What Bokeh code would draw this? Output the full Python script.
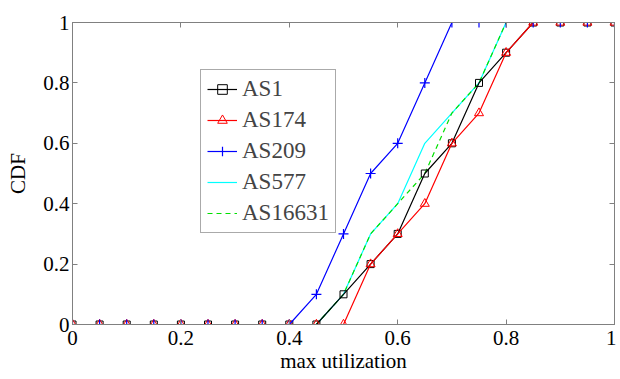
from bokeh.plotting import figure
from bokeh.models import Range1d, FixedTicker, LinearAxis, Legend, LegendItem
from bokeh.embed import file_html
from bokeh.resources import INLINE

x = [0, 0.05, 0.1, 0.15, 0.2, 0.25, 0.3, 0.35, 0.4, 0.45, 0.5,
     0.55, 0.6, 0.65, 0.7, 0.75, 0.8, 0.85, 0.9, 0.95, 1.0]
as1 = [0, 0, 0, 0, 0, 0, 0, 0, 0, 0, 0.1, 0.2, 0.3, 0.5, 0.6, 0.8, 0.9, 1, 1, 1, 1]
as174 = [0, 0, 0, 0, 0, 0, 0, 0, 0, 0, 0, 0.2, 0.3, 0.4, 0.6, 0.7, 0.9, 1, 1, 1, 1]
as209 = [0, 0, 0, 0, 0, 0, 0, 0, 0, 0.1, 0.3, 0.5, 0.6, 0.8, 1, 1, 1, 1, 1, 1, 1]
as577 = [0, 0, 0, 0, 0, 0, 0, 0, 0, 0, 0.1, 0.3, 0.4, 0.6, 0.7, 0.8, 1, 1, 1, 1, 1]
as16631 = [0, 0, 0, 0, 0, 0, 0, 0, 0, 0, 0.1, 0.3, 0.4, 0.5, 0.7, 0.8, 1, 1, 1, 1, 1]
ticks = [0, 0.2, 0.4, 0.6, 0.8, 1]

GREY = "#808080"
SERIF = "Liberation Serif"

p = figure(width=616, height=378, output_backend="svg", toolbar_location=None,
           x_range=Range1d(0, 1), y_range=Range1d(0, 1),
           min_border_left=72, min_border_right=2, min_border_top=22, min_border_bottom=54)
p.grid.visible = False
p.outline_line_color = GREY
p.background_fill_color = "white"

xax = p.xaxis[0]
yax = p.yaxis[0]
for ax in (xax, yax):
    ax.update(
        ticker=FixedTicker(ticks=ticks),
        major_tick_in=5, major_tick_out=0,
        minor_tick_line_color=None,
        axis_line_color=GREY, major_tick_line_color=GREY,
        major_label_text_font=SERIF,
        major_label_text_font_size="21px",
        major_label_text_color="black",
        axis_label_text_font=SERIF,
        axis_label_text_font_size="21px",
        axis_label_text_font_style="normal",
        axis_label_text_color="black",
    )
xax.axis_label = "max utilization"
yax.axis_label = "CDF"
xax.major_label_standoff = 6
xax.axis_label_standoff = 1
yax.major_label_standoff = 3
yax.axis_label_standoff = 10

for loc in ("above", "right"):
    a = LinearAxis(ticker=FixedTicker(ticks=ticks), major_tick_in=5, major_tick_out=0,
                   minor_tick_line_color=None, axis_line_color=GREY,
                   major_tick_line_color=GREY,
                   major_label_overrides={t: "" for t in ticks},
                   major_label_standoff=0)
    p.add_layout(a, loc)

r577 = p.line(x, as577, line_color="cyan", line_width=1.2)
r16631 = p.line(x, as16631, line_color="#00e000", line_width=1.2, line_dash="5 4")
r1 = p.line(x, as1, line_color="black", line_width=1.2)
m1 = p.scatter(x, as1, marker="square", size=7, line_color="black", fill_color=None, line_width=1)
r174 = p.line(x, as174, line_color="red", line_width=1.2)
m174 = p.scatter(x, as174, marker="triangle", size=9, line_color="red", fill_color=None, line_width=1)
r209 = p.line(x, as209, line_color="blue", line_width=1.2)
m209 = p.scatter(x, as209, marker="cross", size=10, line_color="blue", line_width=1.2)

legend = Legend(items=[
    LegendItem(label="AS1", renderers=[r1, m1]),
    LegendItem(label="AS174", renderers=[r174, m174]),
    LegendItem(label="AS209", renderers=[r209, m209]),
    LegendItem(label="AS577", renderers=[r577]),
    LegendItem(label="AS16631", renderers=[r16631]),
], location=(128, 91),
    label_text_font=SERIF, label_text_font_size="23px",
    label_height=24, glyph_height=24, glyph_width=30, label_standoff=5,
    spacing=5, padding=6, margin=0,
    border_line_color="#555555", border_line_width=1, background_fill_alpha=1)
p.add_layout(legend, "center")

open("out.html", "w").write(file_html(p, INLINE))
